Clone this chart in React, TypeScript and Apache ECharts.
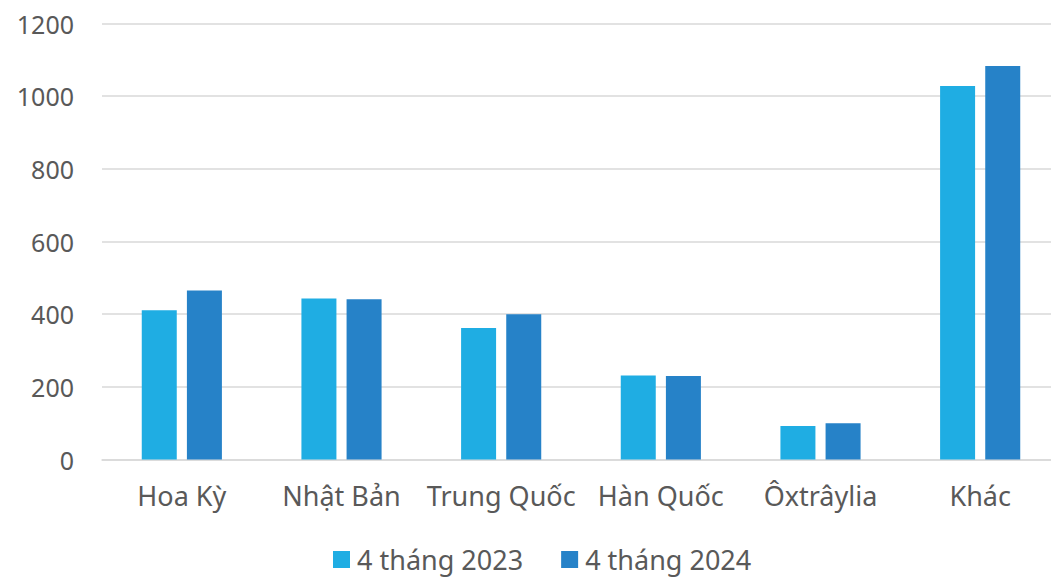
import React, { useEffect, useRef } from "react";
import * as echarts from "echarts";

const categories = ["Hoa Kỳ", "Nhật Bản", "Trung Quốc", "Hàn Quốc", "Ôxtrâylia", "Khác"];
const seriesNames = ["4 tháng 2023", "4 tháng 2024"];
const values2023 = [411, 443, 362, 231, 92, 1028];
const values2024 = [465, 441, 400, 230, 100, 1083];
const yTicks = { min: 0, max: 1200, interval: 200 };

const FONT = "'Noto Sans', sans-serif";
const TEXT = "#595959";

export default function App() {
  const ref = useRef<HTMLDivElement>(null);
  useEffect(() => {
    if (!ref.current) return;
    const chart = echarts.init(ref.current, null, { renderer: "svg" });
    chart.setOption({
      animation: false,
      backgroundColor: "#ffffff",
      textStyle: { fontFamily: FONT, color: TEXT },
      grid: { left: 102, right: 0, top: 23.5, bottom: 117.5, containLabel: false },
      legend: {
        data: seriesNames,
        left: 333,
        top: 546,
        padding: 0,
        itemWidth: 17,
        itemHeight: 17,
        itemGap: 38,
        icon: "rect",
        textStyle: { fontFamily: FONT, fontSize: 27, lineHeight: 24, color: TEXT, padding: [0, 0, 0, 2] },
      },
      xAxis: {
        type: "category",
        data: categories,
        axisTick: { show: false },
        axisLine: { show: true, lineStyle: { color: "#d9d9d9", width: 1.5 } },
        axisLabel: { fontFamily: FONT, fontSize: 27, color: TEXT, margin: 22, interval: 0 },
      },
      yAxis: {
        type: "value",
        min: yTicks.min,
        max: yTicks.max,
        interval: yTicks.interval,
        axisLine: { show: false },
        axisTick: { show: false },
        splitLine: { lineStyle: { color: "#d9d9d9", width: 1.5 } },
        axisLabel: {
          fontFamily: FONT,
          fontSize: 25,
          color: TEXT,
          margin: 28,
          formatter: (v: number) => String(v),
        },
      },
      series: [
        {
          name: seriesNames[0],
          type: "bar",
          data: values2023,
          barWidth: 35,
          barGap: "29%",
          itemStyle: { color: "#1FADE3" },
        },
        {
          name: seriesNames[1],
          type: "bar",
          data: values2024,
          barWidth: 35,
          barGap: "29%",
          itemStyle: { color: "#2682C8" },
        },
      ],
    });
    return () => chart.dispose();
  }, []);
  return (
    <div style={{ width: 1051, height: 577, position: "absolute", left: 0, top: 0, overflow: "hidden", background: "#fff" }}>
      <div ref={ref} style={{ width: 1060, height: 577 }} />
    </div>
  );
}
